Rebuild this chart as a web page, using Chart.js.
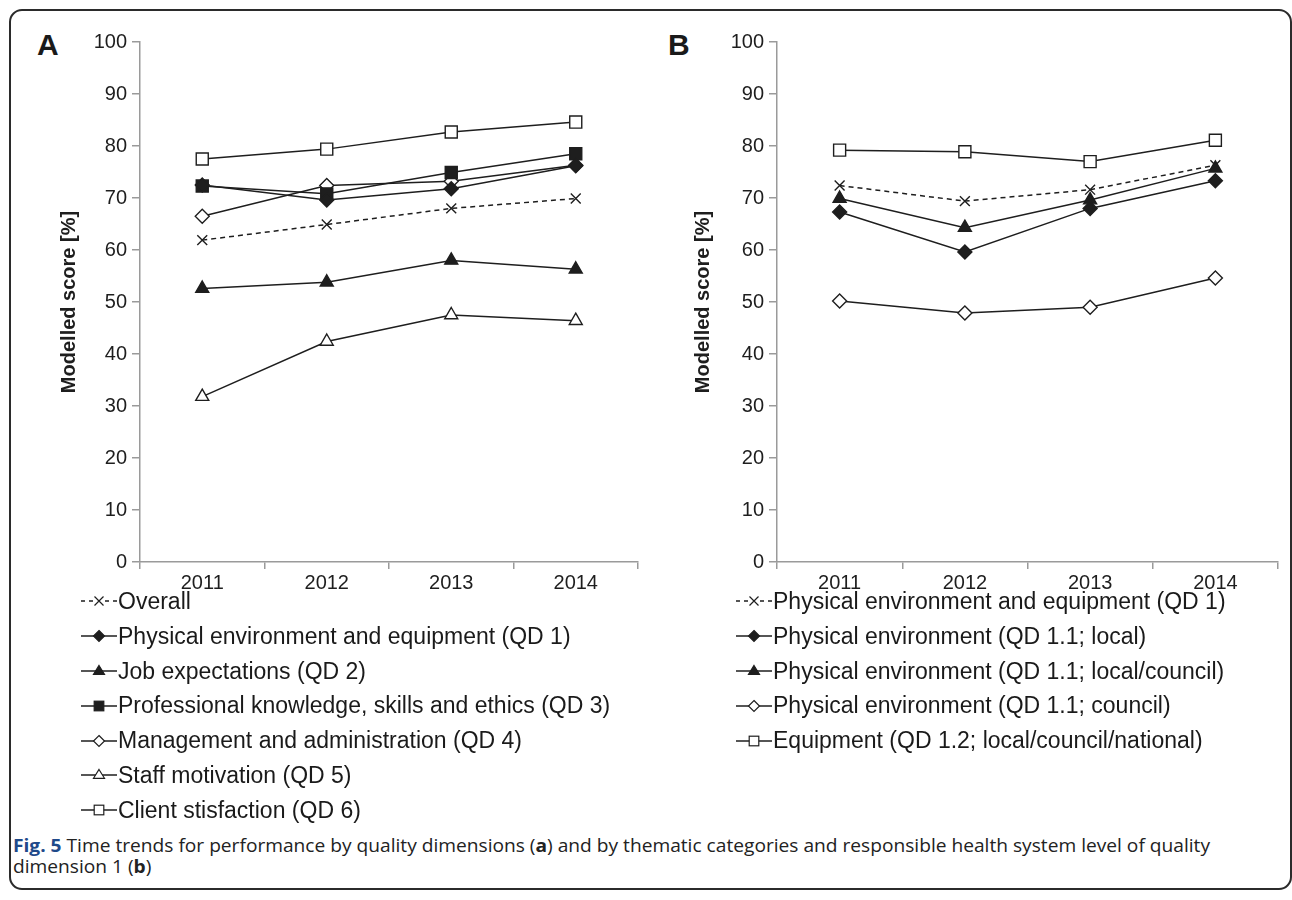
<!DOCTYPE html>
<html>
<head>
<meta charset="utf-8">
<script src="https://cdn.jsdelivr.net/npm/chart.js@4.4.1/dist/chart.umd.min.js"></script>
<style>
  html, body { margin:0; padding:0; background:#fff; width:1292px; height:900px; overflow:hidden; }
  body { position:relative; font-family:"Liberation Sans", Arial, sans-serif; color:#1a1a1a; }
  #frame { position:absolute; left:9px; top:9px; width:1279px; height:877px; border:2px solid #2b2b2b; border-radius:13px; }
  .panel-letter { position:absolute; font-weight:bold; font-size:30px; line-height:1; }
  canvas { position:absolute; }
  .legend { position:absolute; font-size:23px; line-height:34.8px; white-space:nowrap; }
  .legend .row { display:flex; align-items:center; height:34.8px; }
  .legend svg { flex:none; margin-right:0px; }
  #caption { position:absolute; left:13px; top:835px; font-family:"Open Sans", sans-serif; font-size:18px; line-height:21px; color:#222; white-space:nowrap; transform-origin:0 0; }
  #caption .fig { font-weight:bold; color:#1f4a8a; }
</style>
</head>
<body>
<div id="frame"></div>
<div class="panel-letter" style="left:37px; top:30px;">A</div>
<div class="panel-letter" style="left:668px; top:30px;">B</div>
<canvas id="chartA" width="650" height="600" style="left:0px; top:0px; width:650px; height:600px;"></canvas>
<canvas id="chartB" width="642" height="600" style="left:650px; top:0px; width:642px; height:600px;"></canvas>
<div class="legend" id="legendA" style="left:80px; top:584px;"></div>
<div class="legend" id="legendB" style="left:735px; top:584px;"></div>
<div id="caption"><span class="fig">Fig. 5</span> Time trends for performance by quality dimensions (<b>a</b>) and by thematic categories and responsible health system level of quality<br>dimension 1 (<b>b</b>)</div>
<script>
// ---------- DATA ----------
const years = ['2011', '2012', '2013', '2014'];
const yTicks = [0, 10, 20, 30, 40, 50, 60, 70, 80, 90, 100];
const axisTitle = 'Modelled score [%]';

// Panel A
const labelsA = [
  'Overall',
  'Physical environment and equipment (QD 1)',
  'Job expectations (QD 2)',
  'Professional knowledge, skills and ethics (QD 3)',
  'Management and administration (QD 4)',
  'Staff motivation (QD 5)',
  'Client stisfaction (QD 6)'
];
const overallA  = [61.9, 64.9, 68.0, 69.9];
const physicalA = [72.5, 69.6, 71.8, 76.2];
const jobA      = [52.6, 53.8, 58.0, 56.3];
const profA     = [72.3, 70.8, 74.9, 78.5];
const mgmtA     = [66.5, 72.4, 73.2, 76.3];
const staffA    = [31.8, 42.4, 47.5, 46.4];
const clientA   = [77.5, 79.4, 82.7, 84.6];

// Panel B
const labelsB = [
  'Physical environment and equipment (QD 1)',
  'Physical environment (QD 1.1; local)',
  'Physical environment (QD 1.1; local/council)',
  'Physical environment (QD 1.1; council)',
  'Equipment (QD 1.2; local/council/national)'
];
const qd1B          = [72.4, 69.4, 71.6, 76.3];
const localB        = [67.3, 59.6, 68.0, 73.3];
const localCouncilB = [69.9, 64.3, 69.6, 75.7];
const councilB      = [50.2, 47.9, 49.0, 54.6];
const equipB        = [79.2, 78.9, 77.0, 81.1];

// ---------- STYLES ----------
const INK = '#1e1e1e';
const AXIS = '#9a9a9a';
const marker = {
  cross:   { pointStyle: 'crossRot', radius: 7,  fill: INK },
  diamond: { pointStyle: 'rectRot',  radius: 7,  fill: INK },
  diamondO:{ pointStyle: 'rectRot',  radius: 7,  fill: '#fff' },
  tri:     { pointStyle: 'triangle', radius: 7.5,fill: INK },
  triO:    { pointStyle: 'triangle', radius: 7.5,fill: '#fff' },
  sq:      { pointStyle: 'rect',     radius: 8.5,fill: INK },
  sqO:     { pointStyle: 'rect',     radius: 8.5,fill: '#fff' }
};

function ds(label, data, m, dashed) {
  return {
    label, data,
    borderColor: INK, borderWidth: 1.5,
    borderDash: dashed ? [5, 4] : [],
    pointStyle: m.pointStyle, pointRadius: m.radius, pointHoverRadius: m.radius,
    pointBackgroundColor: m.fill, pointBorderColor: INK, pointBorderWidth: 1.4,
    tension: 0, fill: false
  };
}

const setA = [
  [overallA, 'cross', true],
  [physicalA, 'diamond', false],
  [jobA, 'tri', false],
  [profA, 'sq', false],
  [mgmtA, 'diamondO', false],
  [staffA, 'triO', false],
  [clientA, 'sqO', false]
];
const setB = [
  [qd1B, 'cross', true],
  [localB, 'diamond', false],
  [localCouncilB, 'tri', false],
  [councilB, 'diamondO', false],
  [equipB, 'sqO', false]
];

function makeChart(id, labels, set, padLeft, padRight, yWidth) {
  const datasets = set.map((s, i) => ds(labels[i], s[0], marker[s[1]], s[2]));
  return new Chart(document.getElementById(id), {
    type: 'line',
    data: { labels: years, datasets },
    options: {
      responsive: false, animation: false, devicePixelRatio: 1,
      layout: { padding: { left: padLeft, right: padRight, top: 42, bottom: 0 } },
      plugins: { legend: { display: false }, tooltip: { enabled: false } },
      scales: {
        x: {
          type: 'category', offset: true,
          grid: { display: true, drawOnChartArea: false, offset: true, tickLength: 7, color: AXIS, lineWidth: 1.5 },
          border: { display: true, color: AXIS, width: 1.5 },
          ticks: { color: INK, font: { family: 'Liberation Sans', size: 20 }, padding: 2 },
          afterFit: (sc) => { sc.height = 38; }
        },
        y: {
          min: 0, max: 100,
          afterBuildTicks: (sc) => { sc.ticks = yTicks.map(v => ({ value: v })); },
          grid: { display: true, drawOnChartArea: false, tickLength: 8, color: AXIS, lineWidth: 1.5 },
          border: { display: true, color: AXIS, width: 1.5 },
          ticks: { color: INK, font: { family: 'Liberation Sans', size: 20 }, padding: 5 },
          title: { display: true, text: axisTitle, color: INK, font: { family: 'Liberation Sans', size: 20, weight: 'bold' }, padding: { top: 3, bottom: 4 } },
          afterFit: (sc) => { sc.width = yWidth; }
        }
      }
    }
  });
}

makeChart('chartA', labelsA, setA, 54, 12, 86);
makeChart('chartB', labelsB, setB, 38, 14, 89);

// ---------- HTML legends ----------
function symbolSVG(m, dashed) {
  const ns = 'http://www.w3.org/2000/svg';
  const svg = document.createElementNS(ns, 'svg');
  svg.setAttribute('width', 38); svg.setAttribute('height', 20);
  const line = document.createElementNS(ns, 'line');
  line.setAttribute('x1', 1); line.setAttribute('x2', 37);
  line.setAttribute('y1', 10); line.setAttribute('y2', 10);
  line.setAttribute('stroke', INK); line.setAttribute('stroke-width', 1.5);
  if (dashed) line.setAttribute('stroke-dasharray', '4 4');
  svg.appendChild(line);
  const cx = 19, cy = 10;
  let shape;
  if (m.pointStyle === 'crossRot') {
    const r = 4.5;
    const bg = document.createElementNS(ns, 'rect');
    bg.setAttribute('x', cx - r - 1); bg.setAttribute('y', cy - 2); bg.setAttribute('width', 2 * r + 2); bg.setAttribute('height', 4); bg.setAttribute('fill', '#fff');
    svg.appendChild(bg);
    shape = document.createElementNS(ns, 'path');
    shape.setAttribute('d', `M${cx-r},${cy-r}L${cx+r},${cy+r}M${cx-r},${cy+r}L${cx+r},${cy-r}`);
    shape.setAttribute('stroke', INK); shape.setAttribute('stroke-width', 1.2); shape.setAttribute('fill', 'none');
  } else if (m.pointStyle === 'rectRot') {
    const r = 5.5;
    shape = document.createElementNS(ns, 'path');
    shape.setAttribute('d', `M${cx},${cy-r}L${cx+r},${cy}L${cx},${cy+r}L${cx-r},${cy}Z`);
  } else if (m.pointStyle === 'triangle') {
    const r = 5.5;
    shape = document.createElementNS(ns, 'path');
    shape.setAttribute('d', `M${cx},${cy-r}L${cx+r},${cy+r*0.6}L${cx-r},${cy+r*0.6}Z`);
  } else {
    const s = 4.8;
    shape = document.createElementNS(ns, 'rect');
    shape.setAttribute('x', cx - s); shape.setAttribute('y', cy - s);
    shape.setAttribute('width', 2 * s); shape.setAttribute('height', 2 * s);
  }
  if (m.pointStyle !== 'crossRot') {
    shape.setAttribute('fill', m.fill); shape.setAttribute('stroke', INK); shape.setAttribute('stroke-width', 1.2);
  }
  svg.appendChild(shape);
  return svg;
}
function buildLegend(id, labels, set) {
  const el = document.getElementById(id);
  labels.forEach((lab, i) => {
    const row = document.createElement('div'); row.className = 'row';
    row.appendChild(symbolSVG(marker[set[i][1]], set[i][2]));
    const t = document.createElement('span'); t.textContent = lab;
    row.appendChild(t);
    el.appendChild(row);
  });
}
buildLegend('legendA', labelsA, setA);
buildLegend('legendB', labelsB, setB);

// fit caption's first line to the reference width
(function () {
  const cap = document.getElementById('caption');
  const w = cap.getBoundingClientRect().width;
  const target = 1197;
  cap.style.transform = 'scaleX(' + (target / w) + ')';
})();
</script>
</body>
</html>
